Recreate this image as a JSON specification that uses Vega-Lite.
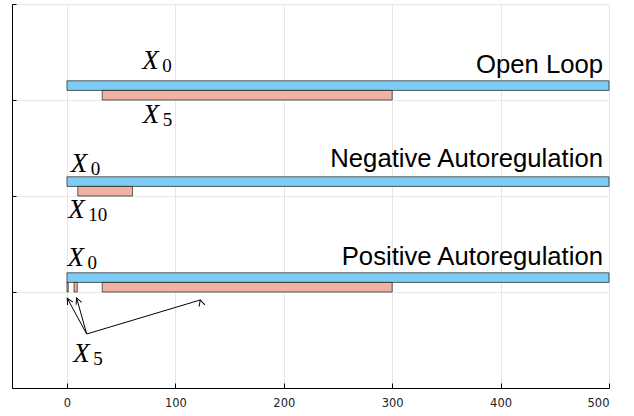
{
  "$schema": "https://vega.github.io/schema/vega-lite/v6.json",
  "width": 597,
  "height": 384,
  "autosize": {"type": "none"},
  "padding": {"left": 12, "top": 4, "right": 25, "bottom": 28},
  "background": "white",
  "config": {"view": {"stroke": null}},
  "datasets": {
    "bars": [
      {"row": "Open Loop", "species": "X0", "start": 0, "end": 500, "lo": 3.1, "hi": 3.2},
      {"row": "Open Loop", "species": "X5", "start": 32.5, "end": 300, "lo": 3.0, "hi": 3.1},
      {"row": "Negative Autoregulation", "species": "X0", "start": 0, "end": 500, "lo": 2.1, "hi": 2.2},
      {"row": "Negative Autoregulation", "species": "X10", "start": 10, "end": 60.5, "lo": 2.0, "hi": 2.1},
      {"row": "Positive Autoregulation", "species": "X0", "start": 0, "end": 500, "lo": 1.1, "hi": 1.2},
      {"row": "Positive Autoregulation", "species": "X5", "start": 0, "end": 1.2, "lo": 1.0, "hi": 1.1},
      {"row": "Positive Autoregulation", "species": "X5", "start": 6.5, "end": 9.5, "lo": 1.0, "hi": 1.1},
      {"row": "Positive Autoregulation", "species": "X5", "start": 32.5, "end": 300, "lo": 1.0, "hi": 1.1}
    ],
    "titles": [
      {"title": "Open Loop", "x": 494.5, "y": 3.285},
      {"title": "Negative Autoregulation", "x": 494.5, "y": 2.305},
      {"title": "Positive Autoregulation", "x": 494.5, "y": 1.281}
    ],
    "labels": [
      {"x": 69.5, "y": 3.32, "sub": "0"},
      {"x": 70, "y": 2.764, "sub": "5"},
      {"x": 3.4, "y": 2.247, "sub": "0"},
      {"x": 1.2, "y": 1.768, "sub": "10"},
      {"x": 0.6, "y": 1.271, "sub": "0"},
      {"x": 5.8, "y": 0.274, "sub": "5"}
    ],
    "arrows": [
      {"target": "a", "x": 18.2, "y": 0.5625, "x2": 0.3, "y2": 0.934},
      {"target": "b", "x": 18.2, "y": 0.5625, "x2": 8.9, "y2": 0.9375},
      {"target": "c", "x": 18.2, "y": 0.5625, "x2": 123, "y2": 0.917}
    ]
  },
  "layer": [
    {
      "data": {"name": "bars"},
      "mark": {"type": "rect", "stroke": "#000000", "strokeOpacity": 0.6, "strokeWidth": 1},
      "encoding": {
        "x": {
          "field": "start", "type": "quantitative",
          "scale": {"domain": [-50.7, 500], "nice": false, "zero": false},
          "axis": {
            "values": [0, 100, 200, 300, 400, 500],
            "title": null,
            "domainColor": "#000000",
            "domainWidth": 1,
            "tickColor": "#000000",
            "tickSize": -5,
            "labelPadding": 14,
            "labelFont": "DejaVu Sans",
            "labelFontSize": 11.5,
            "labelColor": "#222222",
            "gridColor": "#e6e6e6",
            "gridWidth": 1,
            "grid": true
          }
        },
        "x2": {"field": "end"},
        "y": {
          "field": "lo", "type": "quantitative",
          "scale": {"domain": [0, 4], "nice": false, "zero": false},
          "axis": {
            "values": [0, 1, 2, 3, 4],
            "title": null,
            "labels": false,
            "domainColor": "#000000",
            "domainWidth": 1,
            "tickColor": "#000000",
            "tickSize": -4,
            "gridColor": "#e6e6e6",
            "gridWidth": 1,
            "grid": true
          }
        },
        "y2": {"field": "hi"},
        "color": {
          "field": "species", "type": "nominal",
          "scale": {"domain": ["X0", "X5", "X10"], "range": ["#7ecbf6", "#f0b2a2", "#f0b2a2"]},
          "legend": null
        }
      }
    },
    {
      "data": {"name": "arrows"},
      "mark": {"type": "rule", "color": "#000000", "strokeWidth": 1},
      "encoding": {
        "x": {"field": "x", "type": "quantitative"},
        "y": {"field": "y", "type": "quantitative"},
        "x2": {"field": "x2"},
        "y2": {"field": "y2"}
      }
    },
    {
      "data": {"name": "arrows"},
      "mark": {"type": "point", "shape": "M-0.6,1.2L0,0L0.6,1.2", "filled": false, "stroke": "#000000", "strokeWidth": 1, "size": 100, "opacity": 1},
      "encoding": {
        "x": {"field": "x2", "type": "quantitative"},
        "y": {"field": "y2", "type": "quantitative"},
        "angle": {
          "field": "target", "type": "nominal",
          "scale": {"domain": ["a", "b", "c"], "range": [331.5, 344.5, 73.4]},
          "legend": null
        }
      }
    },
    {
      "data": {"name": "titles"},
      "mark": {"type": "text", "align": "right", "baseline": "alphabetic", "font": "Liberation Sans", "fontSize": 25.7, "color": "#000000"},
      "encoding": {
        "x": {"field": "x", "type": "quantitative"},
        "y": {"field": "y", "type": "quantitative"},
        "text": {"field": "title"}
      }
    },
    {
      "data": {"name": "labels"},
      "mark": {"type": "text", "align": "left", "baseline": "alphabetic", "font": "Liberation Serif", "fontStyle": "italic", "fontSize": 27, "color": "#000000", "text": "X"},
      "encoding": {
        "x": {"field": "x", "type": "quantitative"},
        "y": {"field": "y", "type": "quantitative"}
      }
    },
    {
      "data": {"name": "labels"},
      "mark": {"type": "text", "align": "left", "baseline": "alphabetic", "font": "Liberation Serif", "fontSize": 19, "color": "#000000", "dx": 20, "dy": 3},
      "encoding": {
        "x": {"field": "x", "type": "quantitative"},
        "y": {"field": "y", "type": "quantitative"},
        "text": {"field": "sub"}
      }
    }
  ]
}
